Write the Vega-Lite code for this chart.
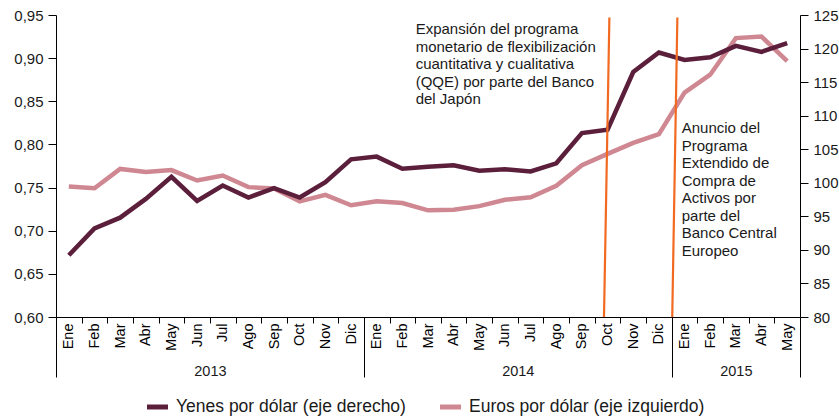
{
  "$schema": "https://vega.github.io/schema/vega-lite/v6.json",
  "width": 744,
  "height": 302,
  "autosize": {"type": "none"},
  "padding": {"left": 56, "top": 15, "right": 39, "bottom": 100},
  "config": {
    "view": {"stroke": null},
    "font": "Liberation Sans",
    "axis": {"labelFont": "Liberation Sans", "labelColor": "#1a1a1a", "domainColor": "#000000", "tickColor": "#000000", "grid": false, "title": null}
  },
  "datasets": {
    "series": [
      {"i": 0, "mes": "Ene 2013", "euro": 0.7513, "yen": 89.2},
      {"i": 1, "mes": "Feb 2013", "euro": 0.7492, "yen": 93.2},
      {"i": 2, "mes": "Mar 2013", "euro": 0.7716, "yen": 94.8},
      {"i": 3, "mes": "Abr 2013", "euro": 0.7680, "yen": 97.6},
      {"i": 4, "mes": "May 2013", "euro": 0.7703, "yen": 100.9},
      {"i": 5, "mes": "Jun 2013", "euro": 0.7582, "yen": 97.3},
      {"i": 6, "mes": "Jul 2013", "euro": 0.7640, "yen": 99.6},
      {"i": 7, "mes": "Ago 2013", "euro": 0.7505, "yen": 97.8},
      {"i": 8, "mes": "Sep 2013", "euro": 0.7490, "yen": 99.2},
      {"i": 9, "mes": "Oct 2013", "euro": 0.7340, "yen": 97.8},
      {"i": 10, "mes": "Nov 2013", "euro": 0.7415, "yen": 100.1},
      {"i": 11, "mes": "Dic 2013", "euro": 0.7295, "yen": 103.5},
      {"i": 12, "mes": "Ene 2014", "euro": 0.7340, "yen": 103.9},
      {"i": 13, "mes": "Feb 2014", "euro": 0.7320, "yen": 102.1},
      {"i": 14, "mes": "Mar 2014", "euro": 0.7236, "yen": 102.4},
      {"i": 15, "mes": "Abr 2014", "euro": 0.7242, "yen": 102.6},
      {"i": 16, "mes": "May 2014", "euro": 0.7285, "yen": 101.8},
      {"i": 17, "mes": "Jun 2014", "euro": 0.7358, "yen": 102.0},
      {"i": 18, "mes": "Jul 2014", "euro": 0.7388, "yen": 101.7},
      {"i": 19, "mes": "Ago 2014", "euro": 0.7520, "yen": 102.9},
      {"i": 20, "mes": "Sep 2014", "euro": 0.7760, "yen": 107.4},
      {"i": 21, "mes": "Oct 2014", "euro": 0.7891, "yen": 107.9},
      {"i": 22, "mes": "Nov 2014", "euro": 0.8017, "yen": 116.5},
      {"i": 23, "mes": "Dic 2014", "euro": 0.8120, "yen": 119.4},
      {"i": 24, "mes": "Ene 2015", "euro": 0.8600, "yen": 118.3},
      {"i": 25, "mes": "Feb 2015", "euro": 0.8808, "yen": 118.7},
      {"i": 26, "mes": "Mar 2015", "euro": 0.9232, "yen": 120.4},
      {"i": 27, "mes": "Abr 2015", "euro": 0.9250, "yen": 119.5},
      {"i": 28, "mes": "May 2015", "euro": 0.8965, "yen": 120.8}
    ],
    "eventos": [
      {"x": 20.86, "x2": 21.07, "y": 0.60, "y2": 0.947},
      {"x": 23.52, "x2": 23.72, "y": 0.60, "y2": 0.947}
    ],
    "notas": [
      {"x": 13.52, "y": 0.9417, "t": ["Expansión del programa", "monetario de flexibilización", "cuantitativa y cualitativa", "(QQE) por parte del Banco", "del Japón"]},
      {"x": 23.89, "y": 0.8271, "t": ["Anuncio del", "Programa", "Extendido de", "Compra de", "Activos por", "parte del", "Banco Central", "Europeo"]}
    ]
  },
  "layer": [
    {
      "data": {"name": "series"},
      "mark": {"type": "line", "strokeWidth": 4.5},
      "encoding": {
        "x": {
          "field": "i", "type": "quantitative",
          "scale": {"domain": [-0.5, 28.5], "nice": false, "zero": false},
          "axis": {
            "orient": "bottom",
            "values": [-0.5,0.5,1.5,2.5,3.5,4.5,5.5,6.5,7.5,8.5,9.5,10.5,11.5,12.5,13.5,14.5,15.5,16.5,17.5,18.5,19.5,20.5,21.5,22.5,23.5,24.5,25.5,26.5,27.5],
            "tickSize": 6,
            "labelExpr": "['Ene','Feb','Mar','Abr','May','Jun','Jul','Ago','Sep','Oct','Nov','Dic'][round(datum.value + 0.5) % 12]",
            "labelOffset": 12.83,
            "labelAngle": -90,
            "labelPadding": 0,
            "labelFontSize": 14.5,
            "labelColor": "#000000",
            "labelFlush": false,
            "labelOverlap": false,
            "labelBound": false,
            "domain": true
          }
        },
        "y": {
          "field": "euro", "type": "quantitative",
          "scale": {"domain": [0.6, 0.95], "nice": false, "zero": false},
          "axis": {
            "orient": "left",
            "values": [0.6,0.65,0.7,0.75,0.8,0.85,0.9,0.95],
            "labelExpr": "replace(format(datum.value, '.2f'), '.', ',')",
            "tickSize": 8, "labelPadding": 5, "labelFontSize": 15, "domain": true
          }
        },
        "color": {
          "datum": "Euros por dólar (eje izquierdo)",
          "scale": {"domain": ["Yenes por dólar (eje derecho)", "Euros por dólar (eje izquierdo)"], "range": ["#5B1F3B", "#CF8791"]},
          "legend": {
            "orient": "none", "legendX": 88.5, "legendY": 379, "direction": "horizontal",
            "title": null, "symbolType": "stroke", "symbolSize": 441, "symbolStrokeWidth": 5,
            "labelFontSize": 17.5, "labelFont": "Liberation Sans", "labelColor": "#1a1a1a",
            "labelLimit": 400, "labelOffset": 5.5, "columnPadding": 23
          }
        }
      }
    },
    {
      "data": {"name": "series"},
      "mark": {"type": "line", "strokeWidth": 4.5},
      "encoding": {
        "x": {
          "field": "i", "type": "quantitative",
          "axis": {
            "orient": "bottom",
            "values": [-0.5, 11.5, 23.5, 28.5],
            "tickSize": 60, "labels": false, "domain": false
          }
        },
        "y": {
          "field": "yen", "type": "quantitative",
          "scale": {"domain": [80, 125], "nice": false, "zero": false},
          "axis": {
            "orient": "right",
            "values": [80,85,90,95,100,105,110,115,120,125],
            "format": "d",
            "tickSize": 8, "labelPadding": 5, "labelFontSize": 15, "domain": true
          }
        },
        "color": {"datum": "Yenes por dólar (eje derecho)"}
      }
    },
    {
      "data": {"name": "eventos"},
      "mark": {"type": "rule", "color": "#F26A22", "strokeWidth": 2.2},
      "encoding": {
        "x": {
          "field": "x", "type": "quantitative",
          "axis": {
            "orient": "bottom",
            "values": [5.5, 17.5, 26],
            "labelExpr": "datum.value < 10 ? '2013' : (datum.value < 20 ? '2014' : '2015')",
            "ticks": false, "tickSize": 0, "domain": false,
            "labelPadding": 47, "labelAngle": 0, "labelFontSize": 14.5,
            "labelFlush": false, "labelOverlap": false
          }
        },
        "x2": {"field": "x2"},
        "y": {"field": "y", "type": "quantitative", "scale": {"domain": [0.6, 0.95], "nice": false, "zero": false}, "axis": null},
        "y2": {"field": "y2"}
      }
    },
    {
      "data": {"name": "notas"},
      "mark": {"type": "text", "align": "left", "baseline": "top", "fontSize": 15, "lineHeight": 17.5, "color": "#1a1a1a", "font": "Liberation Sans"},
      "encoding": {
        "x": {"field": "x", "type": "quantitative", "axis": null},
        "y": {"field": "y", "type": "quantitative", "scale": {"domain": [0.6, 0.95], "nice": false, "zero": false}, "axis": null},
        "text": {"field": "t"}
      }
    }
  ],
  "resolve": {
    "scale": {"y": "independent"},
    "axis": {"x": "independent", "y": "independent"}
  }
}
